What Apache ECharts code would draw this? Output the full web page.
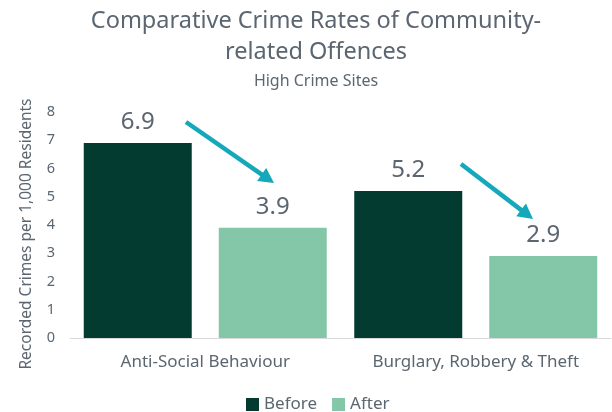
<!DOCTYPE html>
<html>
<head>
<meta charset="utf-8">
<script src="https://cdn.jsdelivr.net/npm/echarts@6/dist/echarts.min.js"></script>
<style>
  html, body { margin: 0; padding: 0; background: #fff; }
  #chart { width: 612px; height: 412px; }
</style>
</head>
<body>
<div id="chart"></div>
<script>
// Offence categories and recorded crime rates (per 1,000 residents)
const categories = ['Anti-Social Behaviour', 'Burglary, Robbery & Theft'];
const beforeValues = [6.9, 5.2];
const afterValues = [3.9, 2.9];
const seriesNames = ['Before', 'After'];

const FONT = 'Noto Sans';
const TEXT = '#5b6670';
const ARROW = '#14a8ba';

const chart = echarts.init(document.getElementById('chart'));

// Build an arrow (shaft + triangular head) from p0 to p1
function arrow(p0, p1) {
  const dx = p1[0] - p0[0], dy = p1[1] - p0[1];
  const len = Math.hypot(dx, dy);
  const ux = dx / len, uy = dy / len;
  const headLen = 15, headHalf = 8;
  const bx = p1[0] - ux * headLen, by = p1[1] - uy * headLen;
  return [
    {
      type: 'line',
      shape: { x1: p0[0], y1: p0[1], x2: bx + ux * 2, y2: by + uy * 2 },
      style: { stroke: ARROW, lineWidth: 4.5 }
    },
    {
      type: 'polygon',
      shape: { points: [
        [p1[0], p1[1]],
        [bx - uy * headHalf, by + ux * headHalf],
        [bx + uy * headHalf, by - ux * headHalf]
      ] },
      style: { fill: ARROW }
    }
  ];
}

const valueLabel = {
  show: true,
  position: 'top',
  distance: 9,
  fontFamily: FONT,
  fontSize: 24,
  color: TEXT
};

chart.setOption({
  backgroundColor: '#ffffff',
  animation: false,
  textStyle: { fontFamily: FONT },
  title: {
    text: 'Comparative Crime Rates of Community-\nrelated Offences',
    subtext: 'High Crime Sites',
    left: 311,
    textAlign: 'center',
    top: 1,
    itemGap: 5,
    textStyle: { fontFamily: FONT, fontSize: 23.5, fontWeight: 'normal', color: TEXT, lineHeight: 31 },
    subtextStyle: { fontFamily: FONT, fontSize: 16, color: TEXT }
  },
  legend: {
    data: seriesNames,
    left: 241,
    top: 391,
    icon: 'rect',
    itemWidth: 13,
    itemHeight: 13,
    itemGap: 15,
    textStyle: { fontFamily: FONT, fontSize: 17, color: TEXT }
  },
  grid: { left: 70, right: 1, top: 112, bottom: 74 },
  xAxis: {
    type: 'category',
    data: categories,
    axisLine: { lineStyle: { color: '#d9d9d9', width: 1 } },
    axisTick: { show: false },
    axisLabel: { interval: 0, fontFamily: FONT, fontSize: 17, color: TEXT, margin: 16 }
  },
  yAxis: {
    type: 'value',
    min: 0,
    max: 8,
    interval: 1,
    name: 'Recorded Crimes per 1,000 Residents',
    nameLocation: 'middle',
    nameGap: 35,
    nameTextStyle: { fontFamily: FONT, fontSize: 15.5, color: TEXT, padding: [0, 0, 0, -18] },
    axisLine: { show: false },
    axisTick: { show: false },
    splitLine: { show: false },
    axisLabel: { fontFamily: FONT, fontSize: 14.5, color: TEXT, margin: 15 }
  },
  series: [
    {
      name: seriesNames[0],
      type: 'bar',
      data: beforeValues,
      barWidth: 108,
      barGap: '25%',
      itemStyle: { color: '#033b30' },
      label: valueLabel
    },
    {
      name: seriesNames[1],
      type: 'bar',
      data: afterValues,
      barWidth: 108,
      itemStyle: { color: '#84c7a8' },
      label: valueLabel
    }
  ],
  graphic: [
    ...arrow([186, 122], [274, 183]),
    ...arrow([461, 164], [533, 219])
  ]
});
</script>
</body>
</html>
